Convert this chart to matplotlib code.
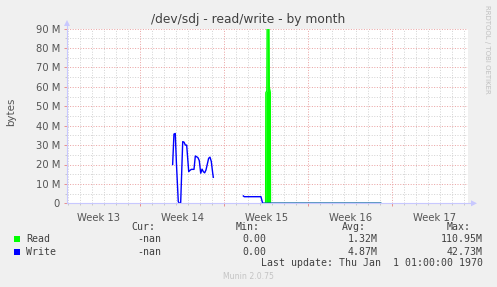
import numpy as np
import matplotlib
matplotlib.use("Agg")
import matplotlib.pyplot as plt

# days from the start of the graph (midnight = whole numbers)
write_days = [8.72, 8.83, 8.94, 9.04, 9.19, 9.29, 9.39, 9.56, 9.67, 9.78, 9.89,
              10.06, 10.17, 10.28, 10.50, 10.61, 10.72, 10.83, 10.94, 11.06,
              11.17, 11.28, 11.39, 11.50, 11.72, 11.83, 11.94, 12.06, 12.11,
              12.50, 14.61, 14.69, 16.08, 16.22, 26.06]
write_vals = [20.0, 35.7, 36.0, 20.0, 0.8, 0.0, 0.3, 31.8, 31.5, 30.0, 30.0,
              16.3, 17.0, 17.5, 17.5, 24.4, 24.0, 23.5, 22.0, 15.5,
              17.6, 16.3, 15.7, 17.2, 23.2, 23.8, 21.6, 15.5, 13.4,
              np.nan, 3.8, 3.4, 3.4, 0.0, 0.0]   # MB

read_days = [16.22, 16.47, 16.49, 16.57, 16.61, 16.71, 16.77, 16.85, 16.87, 26.06]
read_vals = [0.0, 0.0, 57.0, 58.0, 111.0, 111.0, 60.0, 57.0, 0.0, 0.0]  # MB

week_labels = ["Week 13", "Week 14", "Week 15", "Week 16", "Week 17"]
week_label_pos = [2.55, 9.55, 16.55, 23.55, 30.55]
week_starts = [6, 13, 20, 27]

legend_names = ["Read", "Write"]
legend_colors = ["#00ff00", "#0000ff"]
cur_vals = ["-nan", "-nan"]
min_vals = ["0.00", "0.00"]
avg_vals = ["1.32M", "4.87M"]
max_vals = ["110.95M", "42.73M"]

W, H = 497, 287
fig = plt.figure(figsize=(W / 100, H / 100), dpi=100, facecolor="#f0f0f0")

def fx(px):
    return px / W

def fy(py):
    return 1 - py / H

x0, x1, ytop, ybot = 67.0, 468.0, 28.7, 203.3
ax = fig.add_axes([fx(x0), fy(ybot), (x1 - x0) / W, (ybot - ytop) / H])
ax.set_facecolor("white")
for s in ax.spines.values():
    s.set_visible(False)

ax.set_xlim(-1 / 12, 400 / 12)
ax.set_ylim(0, 90e6)

# grid
minor_col = "#d4d4d4"
major_col = "#eaa4a4"
for d in range(0, 34):
    if d in week_starts:
        continue
    ax.axvline(d, color=minor_col, lw=0.72, ls=(0, (1, 1.6)), zorder=1)
for y in np.arange(5e6, 90e6, 10e6):
    ax.axhline(y, color=minor_col, lw=0.72, ls=(0, (1, 1.6)), zorder=1)
for d in week_starts:
    ax.axvline(d, color=major_col, lw=0.72, ls=(0, (1, 1.6)), zorder=1)
for y in np.arange(10e6, 91e6, 10e6):
    ax.axhline(y, color=major_col, lw=0.72, ls=(0, (1, 1.6)), zorder=1)

# data
rd = np.array(read_vals) * 1e6
ax.fill_between(read_days, 0, rd, color=legend_colors[0], lw=0, zorder=3)
ax.plot(read_days, rd, color=legend_colors[0], lw=1.0, zorder=3)
ax.plot(write_days, np.array(write_vals) * 1e6, color=legend_colors[1], lw=1.0, zorder=4)

# ticks
ax.set_yticks(np.arange(0, 91e6, 10e6))
ax.set_yticklabels(["0"] + ["%d M" % v for v in range(10, 91, 10)])
ax.set_yticks(np.arange(5e6, 90e6, 10e6), minor=True)
ax.set_xticks(week_starts)
ax.set_xticklabels([])
ax.set_xticks(range(0, 34), minor=True)
ax.tick_params(axis="y", which="major", length=2.5, width=0.7, color="#e89090",
               labelsize=7.2, labelcolor="#555555", pad=2.5)
ax.tick_params(axis="y", which="minor", length=1.5, width=0.7, color="#c8c8c8")
ax.tick_params(axis="x", which="major", length=2.5, width=0.7, color="#e89090")
ax.tick_params(axis="x", which="minor", length=1.5, width=0.7, color="#c8c8c8")
for lab, pos in zip(week_labels, week_label_pos):
    ax.text(pos, -0.055, lab, transform=ax.get_xaxis_transform(), ha="center",
            va="top", fontsize=7.2, color="#555555")

# axis lines with arrows
axis_col = "#c8c8ff"
fig.add_artist(plt.Line2D([fx(x0), fx(x0)], [fy(ybot), fy(24)], color=axis_col, lw=0.8))
fig.add_artist(plt.Line2D([fx(x0), fx(472)], [fy(ybot), fy(ybot)], color=axis_col, lw=0.8))
fig.add_artist(plt.Polygon([[fx(x0 - 3), fy(26)], [fx(x0 + 3), fy(26)], [fx(x0), fy(20)]],
                           closed=True, color=axis_col, lw=0))
fig.add_artist(plt.Polygon([[fx(471), fy(ybot - 3)], [fx(471), fy(ybot + 3)], [fx(477), fy(ybot)]],
                           closed=True, color=axis_col, lw=0))

# titles
fig.text(fx(248), fy(19), "/dev/sdj - read/write - by month", ha="center", va="center",
         fontsize=8.8, color="#404040")
fig.text(fx(11), fy(112), "bytes", rotation=90, ha="center", va="center",
         fontsize=7.4, color="#555555")
fig.text(fx(487), fy(5), "RRDTOOL / TOBI OETIKER", rotation=-90, ha="center", va="top",
         fontsize=5.0, color="#c0c0c0")

# legend
mono = dict(family="DejaVu Sans Mono", fontsize=7.1, color="#404040", va="center")
fig.text(fx(155.5), fy(227.3), "Cur:", ha="right", **mono)
fig.text(fx(260), fy(227.3), "Min:", ha="right", **mono)
fig.text(fx(366), fy(227.3), "Avg:", ha="right", **mono)
fig.text(fx(471), fy(227.3), "Max:", ha="right", **mono)
rows_y = [239.3, 251.7]
for i in range(2):
    y = rows_y[i]
    fig.add_artist(plt.Rectangle((fx(14), fy(y + 3)), 6 / W, 6 / H,
                                 color=legend_colors[i], lw=0))
    fig.text(fx(26), fy(y), legend_names[i], ha="left", **mono)
    fig.text(fx(161.5), fy(y), cur_vals[i], ha="right", **mono)
    fig.text(fx(266.5), fy(y), min_vals[i], ha="right", **mono)
    fig.text(fx(378), fy(y), avg_vals[i], ha="right", **mono)
    fig.text(fx(483), fy(y), max_vals[i], ha="right", **mono)
fig.text(fx(483), fy(263.5), "Last update: Thu Jan  1 01:00:00 1970", ha="right", **mono)
fig.text(fx(248), fy(276.5), "Munin 2.0.75", ha="center", va="center",
         fontsize=5.6, color="#c4c4c4")

fig.savefig("out.png", dpi=100, facecolor=fig.get_facecolor())
